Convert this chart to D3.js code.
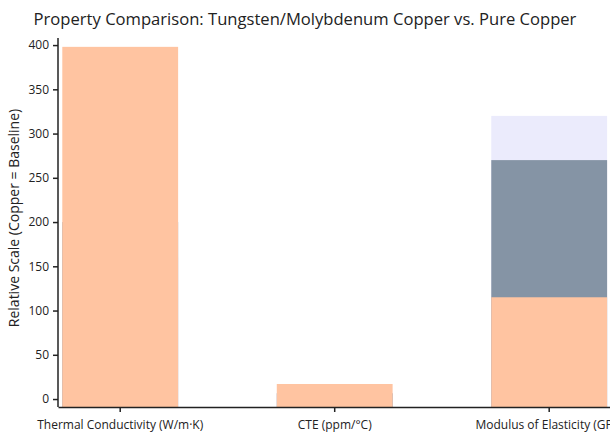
<!DOCTYPE html>
<html><head><meta charset="utf-8">
<script src="https://cdn.jsdelivr.net/npm/d3@7"></script>
<style>body{margin:0;background:#fff;} text{font-family:"Open Sans",sans-serif;}</style>
</head><body><svg id="c" width="610" height="436"></svg>
<script>
const categories = ["Thermal Conductivity (W/m·K)", "CTE (ppm/°C)", "Modulus of Elasticity (GPa)"];
const seriesNames = ["Molybdenum Copper", "Tungsten Copper", "Pure Copper"];
const moCu = [160, 7, 320];
const wCu = [200, 6.5, 270];
const copper = [398, 17, 115];
const yTicks = [0, 50, 100, 150, 200, 250, 300, 350, 400];
const colors = ["#EBEBFC", "#8594A5", "#FFC4A1"];

const svg = d3.select("#c");
const x0 = 58, yTop = 38, yBot = 407;
const x = d3.scaleBand().domain(categories).range([x0, 611.4]).paddingInner(0.46).paddingOuter(0.02);
const y = d3.scaleLinear().domain([-9, 408]).range([yBot, yTop]);

const series = [moCu, wCu, copper];
series.forEach((vals, si) => {
  svg.append("g").selectAll("rect").data(vals).join("rect")
    .attr("x", (d, i) => x(categories[i]))
    .attr("width", x.bandwidth())
    .attr("y", d => y(d))
    .attr("height", d => y(-9) - y(d))
    .attr("fill", colors[si]);
});

const ya = svg.append("g").attr("transform", `translate(${x0},0)`)
  .call(d3.axisLeft(y).tickValues(yTicks).tickSize(5).tickPadding(4));
const xa = svg.append("g").attr("transform", `translate(0,${yBot})`)
  .call(d3.axisBottom(x).tickSize(5).tickPadding(8).tickSizeOuter(0));
[ya, xa].forEach(a => {
  a.selectAll("path,line").attr("stroke", "#222").attr("stroke-width", 1.5);
  a.selectAll("text").attr("fill", "#222").style("font-size", "12px");
});
ya.select(".domain").attr("d", `M-0,${yTop}V${yBot}`);

svg.append("text").attr("x", 305).attr("y", 25).attr("text-anchor", "middle")
  .style("font-size", "16.6px").attr("fill", "#222")
  .text("Property Comparison: Tungsten/Molybdenum Copper vs. Pure Copper");
svg.append("text").attr("transform", "translate(19,218) rotate(-90)").attr("text-anchor", "middle")
  .style("font-size", "14px").attr("fill", "#222")
  .text("Relative Scale (Copper = Baseline)");
</script></body></html>
